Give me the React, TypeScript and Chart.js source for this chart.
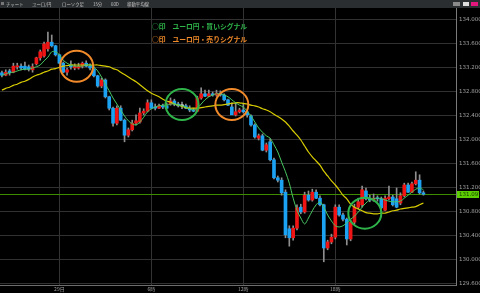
import React, { useEffect, useRef } from "react";
import { Chart, registerables } from "chart.js";

Chart.register(...registerables);

// ---- axis setup ----
const slotCount = 119;
const timeTickIndex = [15, 39, 63, 87];
const timeTickText = ["29日", "6時", "12時", "18時"];
const yTicks = [129.6, 130.0, 130.4, 130.8, 131.2, 131.6, 132.0, 132.4, 132.8, 133.2, 133.6, 134.0];
const yMin = 129.583;
const yMax = 134.2;

// ---- candle data (EUR/JPY, 15 min) ----
const opens = [
  133.12, 133.08, 133.15, 133.13, 133.22, 133.23, 133.23, 133.22, 133.17, 133.27,
  133.37, 133.40, 133.52, 133.63, 133.57, 133.42, 133.28, 133.13, 133.23, 133.20,
  133.20, 133.23, 133.28, 133.23, 133.18, 133.07, 132.90, 133.00, 132.72, 132.53,
  132.28, 132.53, 132.33, 132.08, 132.17, 132.28, 132.30, 132.45, 132.48, 132.62,
  132.55, 132.53, 132.57, 132.57, 132.60, 132.65, 132.60, 132.57, 132.57, 132.53,
  132.50, 132.48, 132.70, 132.77, 132.73, 132.77, 132.75, 132.78, 132.75, 132.67,
  132.55, 132.42, 132.47, 132.50, 132.47, 132.40, 132.25, 132.03, 132.07, 131.83,
  131.97, 131.67, 131.37, 131.33, 131.13, 130.52, 130.37, 130.53, 130.88, 130.80,
  131.08, 131.00, 131.13, 131.03, 130.92, 130.20, 130.30, 130.38, 130.88, 130.75,
  130.68, 130.35, 130.63, 130.88, 130.92, 131.15, 131.03, 131.00, 131.03, 131.02,
  130.83, 131.02, 131.05, 131.02, 130.95, 131.07, 131.25, 131.13, 131.27, 131.33,
  131.12,
];
const highs = [
  133.15, 133.17, 133.18, 133.28, 133.28, 133.27, 133.30, 133.25, 133.27, 133.38,
  133.50, 133.63, 133.80, 133.75, 133.58, 133.43, 133.30, 133.20, 133.32, 133.27,
  133.28, 133.30, 133.32, 133.27, 133.22, 133.08, 133.03, 133.02, 132.73, 132.55,
  132.57, 132.57, 132.35, 132.20, 132.33, 132.42, 132.53, 132.52, 132.67, 132.67,
  132.60, 132.60, 132.60, 132.62, 132.70, 132.68, 132.63, 132.63, 132.60, 132.57,
  132.53, 132.73, 132.87, 132.83, 132.83, 132.80, 132.83, 132.82, 132.77, 132.68,
  132.62, 132.62, 132.53, 132.60, 132.50, 132.42, 132.27, 132.10, 132.10, 131.95,
  132.02, 131.70, 131.40, 131.37, 131.17, 130.57, 130.57, 130.92, 130.93, 131.13,
  131.15, 131.18, 131.17, 131.07, 130.93, 130.33, 130.43, 130.92, 130.92, 130.78,
  130.70, 130.67, 130.93, 131.03, 131.23, 131.20, 131.08, 131.10, 131.07, 131.05,
  131.07, 131.23, 131.08, 131.20, 131.12, 131.28, 131.28, 131.30, 131.47, 131.42,
  131.15,
];
const lows = [
  133.05, 133.07, 133.08, 133.12, 133.18, 133.17, 133.17, 133.15, 133.13, 133.25,
  133.33, 133.38, 133.48, 133.55, 133.40, 133.27, 133.12, 133.08, 133.18, 133.17,
  133.18, 133.20, 133.22, 133.17, 133.05, 132.88, 132.87, 132.70, 132.50, 132.23,
  132.25, 132.32, 131.97, 132.05, 132.15, 132.25, 132.28, 132.42, 132.47, 132.52,
  132.50, 132.52, 132.52, 132.52, 132.58, 132.57, 132.55, 132.52, 132.52, 132.47,
  132.47, 132.47, 132.68, 132.72, 132.72, 132.73, 132.73, 132.73, 132.65, 132.57,
  132.42, 132.40, 132.45, 132.45, 132.38, 132.23, 132.03, 132.00, 131.82, 131.80,
  131.65, 131.35, 131.30, 131.08, 130.37, 130.23, 130.33, 130.50, 130.77, 130.78,
  130.98, 130.98, 131.02, 130.90, 129.97, 130.17, 130.27, 130.35, 130.73, 130.65,
  130.25, 130.32, 130.60, 130.85, 130.88, 131.00, 130.97, 130.98, 130.98, 130.85,
  130.82, 131.00, 130.90, 130.87, 130.92, 131.05, 131.12, 131.12, 131.25, 131.10,
  131.08,
];
const closes = [
  133.08, 133.13, 133.12, 133.23, 133.23, 133.20, 133.18, 133.18, 133.22, 133.37,
  133.47, 133.60, 133.63, 133.57, 133.42, 133.28, 133.13, 133.17, 133.22, 133.23,
  133.23, 133.28, 133.23, 133.20, 133.07, 132.90, 133.00, 132.72, 132.53, 132.28,
  132.53, 132.33, 132.08, 132.17, 132.28, 132.32, 132.45, 132.48, 132.62, 132.53,
  132.53, 132.57, 132.55, 132.53, 132.65, 132.60, 132.57, 132.57, 132.53, 132.50,
  132.48, 132.70, 132.77, 132.73, 132.77, 132.75, 132.78, 132.75, 132.67, 132.58,
  132.42, 132.47, 132.50, 132.47, 132.42, 132.25, 132.05, 132.07, 131.83, 131.92,
  131.67, 131.37, 131.33, 131.12, 130.42, 130.37, 130.53, 130.87, 130.80, 131.08,
  131.00, 131.13, 131.03, 130.92, 130.20, 130.30, 130.38, 130.88, 130.75, 130.68,
  130.35, 130.63, 130.88, 130.97, 131.17, 131.02, 131.00, 131.03, 131.02, 130.87,
  131.03, 131.05, 130.92, 130.88, 131.07, 131.25, 131.13, 131.27, 131.33, 131.12,
  131.097,
];

// ---- moving averages ----
const maShort = [
  133.08, 133.10, 133.12, 133.13, 133.15, 133.17, 133.18, 133.18, 133.20, 133.22,
  133.25, 133.32, 133.38, 133.47, 133.47, 133.42, 133.33, 133.28, 133.25, 133.23,
  133.23, 133.23, 133.25, 133.25, 133.22, 133.15, 133.05, 132.93, 132.82, 132.70,
  132.60, 132.50, 132.40, 132.32, 132.27, 132.25, 132.30, 132.38, 132.47, 132.52,
  132.55, 132.57, 132.58, 132.58, 132.60, 132.60, 132.58, 132.57, 132.55, 132.52,
  132.50, 132.53, 132.60, 132.67, 132.72, 132.75, 132.77, 132.77, 132.75, 132.72,
  132.67, 132.62, 132.58, 132.55, 132.48, 132.40, 132.30, 132.20, 132.13, 132.07,
  132.03, 131.92, 131.80, 131.63, 131.47, 131.28, 131.03, 130.83, 130.70, 130.60,
  130.70, 130.82, 130.92, 130.97, 130.88, 130.75, 130.65, 130.57, 130.55, 130.57,
  130.62, 130.68, 130.73, 130.80, 130.88, 130.95, 131.00, 131.02, 131.03, 131.02,
  131.00, 130.98, 130.97, 130.97, 130.98, 131.03, 131.08, 131.13, 131.18, 131.20,
  131.17,
];
const maLong = [
  132.83, 132.86, 132.88, 132.91, 132.93, 132.96, 132.98, 133.01, 133.05, 133.08,
  133.10, 133.13, 133.15, 133.18, 133.19, 133.21, 133.23, 133.24, 133.25, 133.25,
  133.25, 133.25, 133.25, 133.25, 133.25, 133.25, 133.24, 133.23, 133.22, 133.19,
  133.17, 133.13, 133.09, 133.05, 133.01, 132.97, 132.92, 132.87, 132.82, 132.78,
  132.75, 132.72, 132.68, 132.65, 132.63, 132.60, 132.58, 132.56, 132.54, 132.53,
  132.53, 132.53, 132.54, 132.55, 132.56, 132.57, 132.58, 132.58, 132.59, 132.60,
  132.61, 132.62, 132.62, 132.61, 132.60, 132.58, 132.57, 132.55, 132.52, 132.50,
  132.47, 132.43, 132.39, 132.35, 132.30, 132.23, 132.15, 132.08, 132.00, 131.90,
  131.80, 131.72, 131.65, 131.58, 131.48, 131.40, 131.32, 131.25, 131.17, 131.08,
  131.02, 130.93, 130.88, 130.85, 130.82, 130.79, 130.78, 130.77, 130.77, 130.78,
  130.78, 130.80, 130.82, 130.83, 130.85, 130.86, 130.87, 130.88, 130.89, 130.92,
  130.95,
];

// ---- signal markers ----
const buySignals = [
  { index: 47, price: 132.59 },
  { index: 94.7, price: 130.78 },
];
const sellSignals = [
  { index: 19.5, price: 133.23 },
  { index: 60, price: 132.59 },
];

const UP = "#f01414";
const DOWN = "#1ca2f2";
const DOJI = "#e6e6e6";
const BUY_COLOR = "#2fb44a";
const SELL_COLOR = "#f08a2a";

export default function App() {
  const ref = useRef<HTMLCanvasElement>(null);

  useEffect(() => {
    document.body.style.margin = "0";
    document.body.style.background = "#000";
    const labels = Array.from({ length: slotCount }, (_, i) => {
      const k = timeTickIndex.indexOf(i);
      return k >= 0 ? timeTickText[k] : "";
    });
    const wicks = lows.map((l, i) => [l, highs[i]]);
    const bodies = opens.map((o, i) => [o, closes[i]]);
    const bodyColors = opens.map((o, i) =>
      closes[i] > o ? UP : closes[i] < o ? DOWN : DOJI
    );
    const lastPrice = closes[closes.length - 1];

    const overlay = {
      id: "overlay",
      beforeDatasetsDraw(chart: any) {
        const { ctx, chartArea, scales } = chart;
        const y = Math.round(scales.y.getPixelForValue(lastPrice)) + 0.5;
        ctx.save();
        ctx.strokeStyle = "#3f8c00";
        ctx.lineWidth = 1;
        ctx.beginPath();
        ctx.moveTo(chartArea.left, y);
        ctx.lineTo(chartArea.right, y);
        ctx.stroke();
        ctx.restore();
      },
      afterDatasetsDraw(chart: any) {
        const { ctx, chartArea, scales } = chart;
        ctx.save();
        const drawRing = (s: { index: number; price: number }, color: string) => {
          const x = scales.x.getPixelForValue(s.index);
          const y = scales.y.getPixelForValue(s.price);
          ctx.strokeStyle = color;
          ctx.lineWidth = 2;
          ctx.beginPath();
          ctx.ellipse(x, y, 16.5, 15.5, 0, 0, Math.PI * 2);
          ctx.stroke();
        };
        buySignals.forEach((s) => drawRing(s, BUY_COLOR));
        sellSignals.forEach((s) => drawRing(s, SELL_COLOR));

        const y = Math.round(scales.y.getPixelForValue(lastPrice));
        ctx.fillStyle = "#5ccf00";
        ctx.fillRect(chartArea.right + 1, y - 3, 22, 7);
        ctx.fillStyle = "#143800";
        ctx.font = "5.5px 'DejaVu Sans'";
        ctx.textBaseline = "middle";
        ctx.textAlign = "left";
        ctx.fillText(lastPrice.toFixed(3), chartArea.right + 3, y + 0.5);
        ctx.restore();
      },
    };

    const chart = new Chart(ref.current as HTMLCanvasElement, {
      type: "bar",
      data: {
        labels,
        datasets: [
          {
            type: "line",
            data: maShort,
            borderColor: "#48c862",
            borderWidth: 1,
            pointRadius: 0,
            tension: 0.3,
            order: 0,
          } as any,
          {
            type: "line",
            data: maLong,
            borderColor: "#d8cc00",
            borderWidth: 1.2,
            pointRadius: 0,
            tension: 0.3,
            order: 0,
          } as any,
          {
            type: "bar",
            data: bodies,
            backgroundColor: bodyColors,
            barThickness: 3,
            grouped: false,
            minBarLength: 1,
            order: 1,
          } as any,
          {
            type: "bar",
            data: wicks,
            backgroundColor: "#8e8e8e",
            barThickness: 1,
            grouped: false,
            order: 2,
          } as any,
        ],
      },
      options: {
        animation: false,
        responsive: false,
        maintainAspectRatio: false,
        devicePixelRatio: 1,
        layout: { padding: { top: 8, left: 0, right: 0, bottom: 0 } },
        plugins: { legend: { display: false }, tooltip: { enabled: false } },
        scales: {
          x: {
            type: "category",
            offset: true,
            grid: {
              offset: false,
              drawTicks: false,
              color: (c: any) => (labels[c.index] ? "#333333" : "rgba(0,0,0,0)"),
            },
            border: { color: "#6e6e6e" },
            ticks: {
              autoSkip: false,
              maxRotation: 0,
              minRotation: 0,
              padding: 1,
              color: "#a0a0a0",
              font: { size: 5, family: "'Noto Sans CJK JP'" },
              callback: (_v: any, i: number) => labels[i],
            },
            afterFit: (s: any) => {
              s.height = 8;
            },
          },
          y: {
            position: "right",
            min: yMin,
            max: yMax,
            afterBuildTicks: (s: any) => {
              s.ticks = yTicks.map((v) => ({ value: v }));
            },
            grid: { color: "#313131", drawTicks: false },
            border: { color: "#7a7a7a" },
            ticks: {
              padding: 3,
              color: "#a0a0a0",
              font: { size: 5.5, family: "'DejaVu Sans'" },
              callback: (v: any) => Number(v).toFixed(3),
            },
            afterFit: (s: any) => {
              s.width = 24;
            },
          },
        },
      } as any,
      plugins: [overlay],
    });
    return () => chart.destroy();
  }, []);

  const tb: React.CSSProperties = {
    position: "absolute",
    top: 1,
    fontSize: "4.4px",
    lineHeight: "6px",
    color: "#c4c4c4",
    fontFamily: "'Noto Sans CJK JP'",
    whiteSpace: "nowrap",
  };
  const lg: React.CSSProperties = {
    position: "absolute",
    left: 152,
    fontSize: "6.8px",
    lineHeight: "8px",
    fontWeight: 700,
    fontFamily: "'Noto Sans CJK JP'",
    whiteSpace: "nowrap",
  };

  return (
    <div style={{ position: "relative", width: 480, height: 293, background: "#000", overflow: "hidden" }}>
      <canvas ref={ref} width={480} height={293} style={{ position: "absolute", left: 0, top: 0, width: 480, height: 293 }} />
      <div style={{ position: "absolute", left: 0, top: 0, width: 480, height: 8, background: "#2a2e30" }}>
        <div style={{ position: "absolute", left: 1, top: 2, width: 3, height: 3, background: "#777" }} />
        <span style={{ ...tb, left: 6 }}>チャート</span>
        <span style={{ ...tb, left: 32 }}>ユーロ/円</span>
        <span style={{ ...tb, left: 62 }}>ローソク足</span>
        <span style={{ ...tb, left: 93 }}>15分</span>
        <span style={{ ...tb, left: 111 }}>60D</span>
        <span style={{ ...tb, left: 127 }}>移動平均線</span>
        <div style={{ position: "absolute", left: 453, top: 2, width: 7, height: 4, background: "#8a8a8a" }} />
        <div style={{ position: "absolute", left: 463, top: 2, width: 6, height: 4, background: "#dcdcdc" }} />
        <div style={{ position: "absolute", left: 471, top: 2, width: 7, height: 4, background: "#e3177c" }} />
      </div>
      <div style={{ ...lg, top: 21.5, color: BUY_COLOR }}>○印　ユーロ円・買いシグナル</div>
      <div style={{ ...lg, top: 35, color: SELL_COLOR }}>○印　ユーロ円・売りシグナル</div>
    </div>
  );
}
